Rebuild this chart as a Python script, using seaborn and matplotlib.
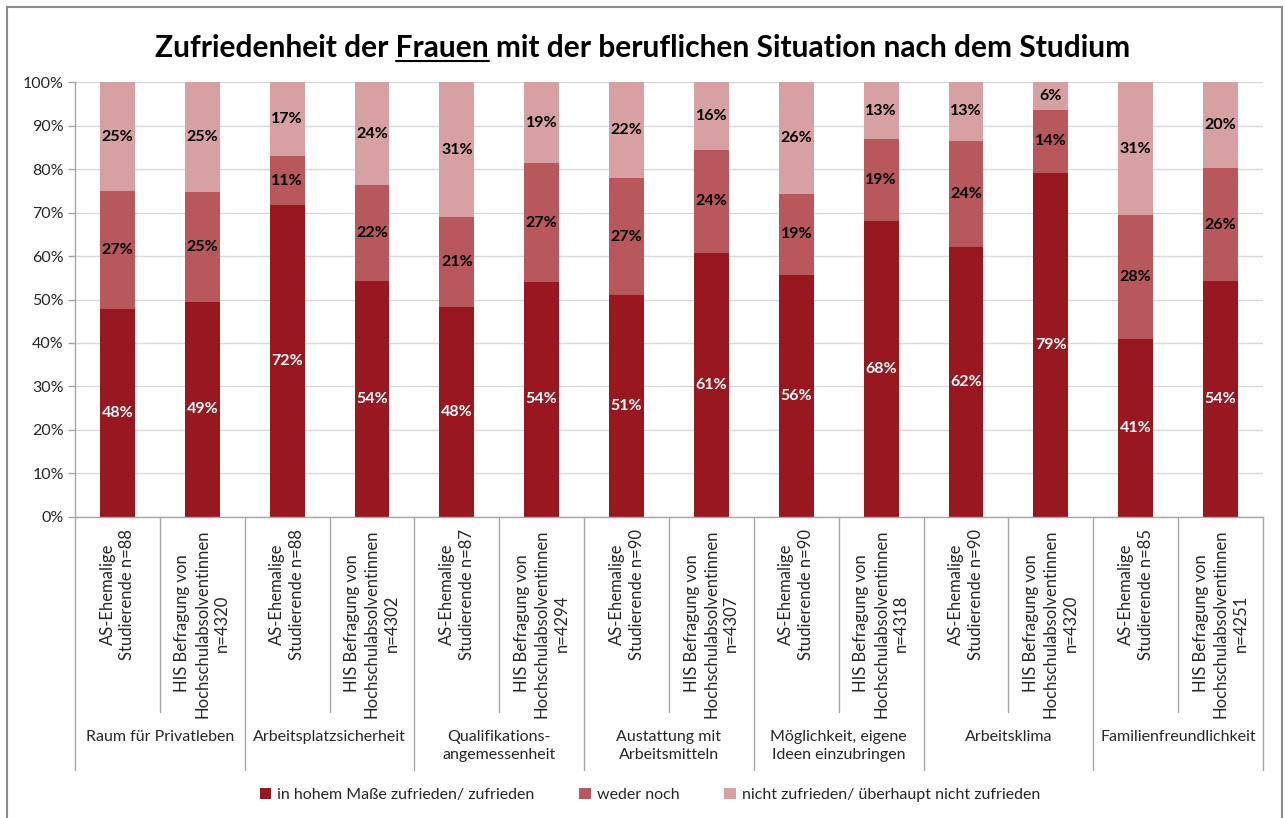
import numpy as np
import pandas as pd
import matplotlib
matplotlib.use("Agg")
import matplotlib.pyplot as plt
import matplotlib.transforms as mtransforms
from matplotlib.patches import Rectangle, Patch
from matplotlib.lines import Line2D
import seaborn as sns

# ---- data -------------------------------------------------------------
topics = [
    "Raum für Privatleben",
    "Arbeitsplatzsicherheit",
    "Qualifikations-\nangemessenheit",
    "Austattung mit\nArbeitsmitteln",
    "Möglichkeit, eigene\nIdeen einzubringen",
    "Arbeitsklima",
    "Familienfreundlichkeit",
]
sample_sizes = [88, 4320, 88, 4302, 87, 4294, 90, 4307, 90, 4318, 90, 4320, 85, 4251]
bar_names = [
    f"AS-Ehemalige\nStudierende n={n}" if i % 2 == 0
    else f"HIS Befragung von\nHochschulabsolventinnen\nn={n}"
    for i, n in enumerate(sample_sizes)
]
satisfied = [47.7, 49.4, 71.7, 54.2, 48.2, 54.0, 51.0, 60.8, 55.6, 68.1, 62.2, 79.2, 41.0, 54.2]
neutral = [27.3, 25.4, 11.3, 22.2, 20.8, 27.4, 26.9, 23.6, 18.8, 18.8, 24.4, 14.4, 28.4, 26.0]
unsatisfied = [25.0, 25.2, 17.0, 23.6, 31.0, 18.6, 22.1, 15.6, 25.6, 13.1, 13.4, 6.4, 30.6, 19.8]
series_names = [
    "in hohem Maße zufrieden/ zufrieden",
    "weder noch",
    "nicht zufrieden/ überhaupt nicht zufrieden",
]
colors = ["#99171F", "#B8585C", "#D7A0A3"]

# ---- style ------------------------------------------------------------
sns.set_style("white")
plt.rcParams["font.family"] = ["Lato", "DejaVu Sans"]
plt.rcParams["text.color"] = "#262626"

W, H = 1286, 818
fig = plt.figure(figsize=(W / 100, H / 100), dpi=100)
ax = fig.add_axes([75 / W, 1 - 516.7 / H, (1263 - 75) / W, (516.7 - 82.3) / H])

df = pd.DataFrame({
    "pos": np.arange(len(satisfied)),
    "s1": satisfied,
    "s2": np.array(satisfied) + np.array(neutral),
    "s3": np.array(satisfied) + np.array(neutral) + np.array(unsatisfied),
})

# stacked bars: draw the cumulative totals from the top layer down
for col, c in zip(["s3", "s2", "s1"], colors[::-1]):
    sns.barplot(data=df, x="pos", y=col, color=c, saturation=1, width=0.41,
                linewidth=0, ax=ax, errorbar=None)

ax.set_xlim(-0.5, len(satisfied) - 0.5)
ax.set_ylim(0, 100)
ax.set_yticks(np.arange(0, 101, 10))
ax.set_yticklabels([f"{v}%" for v in range(0, 101, 10)], fontsize=11.5, color="#262626")
ax.yaxis.grid(True, color="#D9D9D9", linewidth=1)
ax.set_axisbelow(True)
ax.tick_params(axis="y", length=5, color="#A6A6A6", width=1, pad=3, left=True)
ax.set_xlabel("")
ax.set_ylabel("")
for s in ["top", "right"]:
    ax.spines[s].set_visible(False)
for s in ["left", "bottom"]:
    ax.spines[s].set_color("#A6A6A6")
    ax.spines[s].set_linewidth(1)

ax.set_xticks(df["pos"])
ax.set_xticklabels(bar_names, rotation=90, fontsize=12, ha="center", va="top",
                   multialignment="center", linespacing=1.3)
ax.tick_params(axis="x", length=0, pad=9)

# segment value labels
for i in range(len(satisfied)):
    bottoms = [0, satisfied[i], satisfied[i] + neutral[i]]
    vals = [satisfied[i], neutral[i], unsatisfied[i]]
    for k, (b, v) in enumerate(zip(bottoms, vals)):
        ax.text(i, b + v / 2, f"{v:.0f}%", ha="center", va="center",
                fontsize=11.5, fontweight="bold",
                color="white" if k == 0 else "black")

# multi-level category axis separators and topic names
trans = mtransforms.blended_transform_factory(ax.transData, ax.transAxes)
for g in range(len(topics) + 1):
    ax.add_line(Line2D([2 * g - 0.5] * 2, [0, -0.582], transform=trans,
                       color="#A6A6A6", lw=1, clip_on=False))
for g in range(len(topics)):
    ax.add_line(Line2D([2 * g + 0.5] * 2, [0, -0.4496], transform=trans,
                       color="#A6A6A6", lw=1, clip_on=False))
    ax.text(2 * g + 0.5, -0.4905, topics[g], transform=trans, ha="center",
            va="top", fontsize=11.5, linespacing=1.35, color="#262626")

# legend
handles = [Patch(facecolor=c, edgecolor="none") for c in colors]
fig.legend(handles, series_names, loc="center", bbox_to_anchor=(650 / W, 1 - 795 / H),
           ncol=3, frameon=False, fontsize=11.5, handlelength=0.7, handleheight=0.7,
           handletextpad=0.4, columnspacing=2.8)

# title with underlined word
title_y = 1 - 57 / H
title_kw = dict(fontsize=21.5, fontweight="bold", color="black", va="baseline")
full_title = "Zufriedenheit der Frauen mit der beruflichen Situation nach dem Studium"
t = fig.text(0.5, title_y, full_title, ha="center", **title_kw)
fig.canvas.draw()
r = fig.canvas.get_renderer()
bb = t.get_window_extent(r)
tmp1 = fig.text(0, 0, "Zufriedenheit der Frauen", **title_kw)
tmp2 = fig.text(0, 0, "Frauen", **title_kw)
w1 = tmp1.get_window_extent(r).width
w2 = tmp2.get_window_extent(r).width
tmp1.remove()
tmp2.remove()
x_end = bb.x0 + w1
x_start = x_end - w2
uy = title_y * H - 4
fig.add_artist(Line2D([x_start / W, x_end / W], [uy / H, uy / H],
                      transform=fig.transFigure, color="black", lw=1.5))

# chart frame
fig.add_artist(Rectangle((7 / W, -0.05), (1282 - 7) / W, 1.05 - 7 / H,
                         transform=fig.transFigure, fill=False,
                         edgecolor="#8C8C8C", lw=1.5))

fig.savefig("out.png", dpi=100)
